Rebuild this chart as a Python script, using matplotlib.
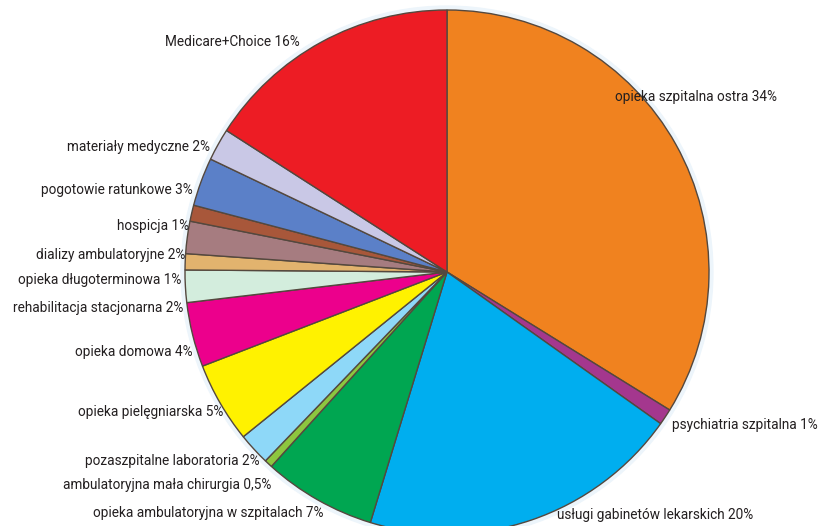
import matplotlib
matplotlib.use("Agg")
import matplotlib.pyplot as plt

# shares of spending, clockwise from 12 o'clock
labels = [
    "opieka szpitalna ostra 34%",
    "psychiatria szpitalna 1%",
    "usługi gabinetów lekarskich 20%",
    "opieka ambulatoryjna w szpitalach 7%",
    "ambulatoryjna mała chirurgia 0,5%",
    "pozaszpitalne laboratoria 2%",
    "opieka pielęgniarska 5%",
    "opieka domowa 4%",
    "rehabilitacja stacjonarna 2%",
    "opieka długoterminowa 1%",
    "dializy ambulatoryjne 2%",
    "hospicja 1%",
    "pogotowie ratunkowe 3%",
    "materiały medyczne 2%",
    "Medicare+Choice 16%",
]
shares = [34, 1, 20, 7, 0.5, 2, 5, 4, 2, 1, 2, 1, 3, 2, 16]
colors = ["#F0821F", "#A4378E", "#00AEEF", "#00A651", "#8DC63F", "#8ED8F8",
          "#FFF200", "#EC008C", "#D3EDDD", "#E2B36E", "#A67C80", "#A8573A",
          "#5B80C8", "#C9C8E6", "#ED1C24"]

# label anchor points (pie units, radius = 1) and alignment
label_pos = [
    (0.64, 0.667, "left"),
    (0.859, -0.584, "left"),
    (0.420, -0.927, "left"),
    (-0.473, -0.920, "right"),
    (-0.672, -0.813, "right"),
    (-0.714, -0.721, "right"),
    (-0.855, -0.534, "right"),
    (-0.969, -0.305, "right"),
    (-1.008, -0.137, "right"),
    (-1.015, -0.031, "right"),
    (-1.000, 0.065, "right"),
    (-0.985, 0.176, "right"),
    (-0.969, 0.313, "right"),
    (-0.904, 0.477, "right"),
    (-0.561, 0.878, "right"),
]

fig = plt.figure(figsize=(8.18, 5.26), dpi=100)
ax = fig.add_axes([0, 0, 1, 1])

# faint pale rim around the pie
ax.add_patch(plt.Circle((0, 0), 1.015, color="#EDF5FB", zorder=0))

ax.pie(shares, colors=colors, startangle=90, counterclock=False,
       radius=1.0, wedgeprops=dict(edgecolor="#54483E", linewidth=1.0))

for text, (x, y, ha) in zip(labels, label_pos):
    ax.text(x, y, text, ha=ha, va="center", fontsize=9.8, color="#231F20",
            family=["Roboto", "Liberation Sans", "DejaVu Sans"])

ax.set_xlim(-447 / 262, (818 - 447) / 262)
ax.set_ylim(-(526 - 272) / 262, 272 / 262)
ax.set_aspect("equal")
ax.axis("off")

fig.savefig("out.png", dpi=100)
